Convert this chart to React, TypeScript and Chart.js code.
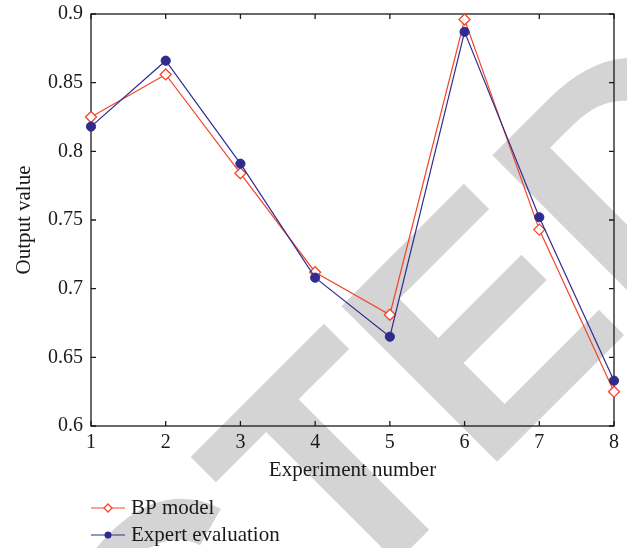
import React, { useEffect, useRef } from 'react';
import { Chart, registerables } from 'chart.js';

Chart.register(...registerables);

const experiments = ['1', '2', '3', '4', '5', '6', '7', '8'];
const bpModel = [0.825, 0.856, 0.784, 0.712, 0.681, 0.896, 0.743, 0.625];
const expertEval = [0.818, 0.866, 0.791, 0.708, 0.665, 0.887, 0.752, 0.633];
const yTicks = [0.6, 0.65, 0.7, 0.75, 0.8, 0.85, 0.9];
const seriesNames = ['BP model', 'Expert evaluation'];
const axisTitles = ['Experiment number', 'Output value'];
const watermarkText = 'RETRACTED';

const RED = '#f5442a';
const BLUE = '#302c8e';
const INK = '#1a1a1a';
const SERIF = '"Liberation Serif", "Times New Roman", serif';

const watermarkPlugin = {
  id: 'watermark',
  beforeDraw(chart: any) {
    const ctx = chart.ctx;
    ctx.save();
    ctx.font = 'bold 320px "Liberation Sans", Arial, sans-serif';
    ctx.fillStyle = '#d4d4d4';
    const pre = ctx.measureText(watermarkText.slice(0, 7)).width;
    ctx.translate(482, 477);
    ctx.rotate(-Math.PI / 4);
    ctx.textBaseline = 'alphabetic';
    ctx.textAlign = 'left';
    ctx.fillText(watermarkText, -pre, 0);
    ctx.restore();
  },
};

const framePlugin = {
  id: 'frame',
  beforeDatasetsDraw(chart: any) {
    const { ctx, chartArea: a, scales } = chart;
    ctx.save();
    ctx.strokeStyle = INK;
    ctx.lineWidth = 1.3;
    ctx.strokeRect(a.left, a.top, a.right - a.left, a.bottom - a.top);
    const tl = 5;
    ctx.beginPath();
    scales.x.ticks.forEach((_t: any, i: number) => {
      const px = scales.x.getPixelForTick(i);
      ctx.moveTo(px, a.bottom);
      ctx.lineTo(px, a.bottom - tl);
      ctx.moveTo(px, a.top);
      ctx.lineTo(px, a.top + tl);
    });
    scales.y.ticks.forEach((t: any) => {
      const py = scales.y.getPixelForValue(t.value);
      ctx.moveTo(a.left, py);
      ctx.lineTo(a.left + tl, py);
      ctx.moveTo(a.right, py);
      ctx.lineTo(a.right - tl, py);
    });
    ctx.stroke();
    ctx.restore();
  },
};

const legendPlugin = {
  id: 'customLegend',
  afterDraw(chart: any) {
    const ctx = chart.ctx;
    const left = chart.chartArea.left;
    const rows = [508, 535];
    ctx.save();
    chart.data.datasets.forEach((ds: any, i: number) => {
      const y = rows[i];
      ctx.strokeStyle = ds.borderColor;
      ctx.lineWidth = 1.2;
      ctx.beginPath();
      ctx.moveTo(left, y);
      ctx.lineTo(left + 34, y);
      ctx.stroke();
      const cx = left + 17;
      ctx.beginPath();
      if (ds.pointStyle === 'rectRot') {
        const r = 4;
        ctx.moveTo(cx, y - r);
        ctx.lineTo(cx + r, y);
        ctx.lineTo(cx, y + r);
        ctx.lineTo(cx - r, y);
        ctx.closePath();
        ctx.fillStyle = '#ffffff';
        ctx.fill();
        ctx.lineWidth = 1.3;
        ctx.stroke();
      } else {
        ctx.arc(cx, y, 3.5, 0, Math.PI * 2);
        ctx.fillStyle = ds.borderColor;
        ctx.fill();
      }
      ctx.fillStyle = INK;
      ctx.font = `21px ${SERIF}`;
      ctx.textBaseline = 'middle';
      ctx.textAlign = 'left';
      ctx.fillText(ds.label, left + 40, y);
    });
    ctx.restore();
  },
};

export default function App() {
  const ref = useRef<HTMLCanvasElement | null>(null);

  useEffect(() => {
    if (!ref.current) return;
    Chart.defaults.font.family = SERIF;
    const chart = new Chart(ref.current, {
      type: 'line',
      data: {
        labels: experiments,
        datasets: [
          {
            label: seriesNames[0],
            data: bpModel,
            borderColor: RED,
            borderWidth: 1.2,
            pointStyle: 'rectRot',
            pointRadius: 5.5,
            pointBorderWidth: 1.3,
            pointBorderColor: RED,
            pointBackgroundColor: '#ffffff',
            fill: false,
            tension: 0,
            order: 1,
            clip: false as any,
          },
          {
            label: seriesNames[1],
            data: expertEval,
            borderColor: BLUE,
            borderWidth: 1.2,
            pointStyle: 'circle',
            pointRadius: 4.6,
            pointBorderWidth: 1,
            pointBorderColor: BLUE,
            pointBackgroundColor: BLUE,
            fill: false,
            tension: 0,
            order: 0,
            clip: false as any,
          },
        ],
      },
      options: {
        animation: false,
        responsive: true,
        maintainAspectRatio: false,
        layout: { padding: { top: 14, right: 13, left: 0, bottom: 0 } },
        plugins: {
          legend: { display: false },
          tooltip: { enabled: false },
        },
        scales: {
          x: {
            type: 'category',
            offset: false,
            grid: { display: false, drawTicks: false },
            border: { display: false },
            ticks: { color: INK, font: { size: 20 }, padding: 5, maxRotation: 0, autoSkip: false },
            title: {
              display: true,
              text: axisTitles[0],
              color: INK,
              font: { size: 21 },
              padding: { top: 0, bottom: 65 },
            },
            afterFit: (s: any) => {
              s.height = 122;
              s.paddingLeft = 0;
              s.paddingRight = 0;
            },
          },
          y: {
            min: 0.6,
            max: 0.9,
            grid: { display: false, drawTicks: false },
            border: { display: false },
            afterBuildTicks: (s: any) => {
              s.ticks = yTicks.map((v) => ({ value: v }));
            },
            ticks: {
              color: INK,
              font: { size: 20, lineHeight: 1 },
              padding: 8,
              callback: (v: any) => String(Number(Number(v).toFixed(2))),
            },
            title: {
              display: true,
              text: axisTitles[1],
              color: INK,
              font: { size: 21 },
              padding: { top: 12, bottom: 0 },
            },
            afterFit: (s: any) => {
              s.width = 91;
              s.paddingTop = 0;
              s.paddingBottom = 0;
            },
          },
        },
      },
      plugins: [watermarkPlugin, framePlugin, legendPlugin],
    });
    return () => chart.destroy();
  }, []);

  return (
    <div style={{ position: 'fixed', left: 0, top: 0, width: 627, height: 548, background: '#ffffff' }}>
      <canvas ref={ref} />
    </div>
  );
}
